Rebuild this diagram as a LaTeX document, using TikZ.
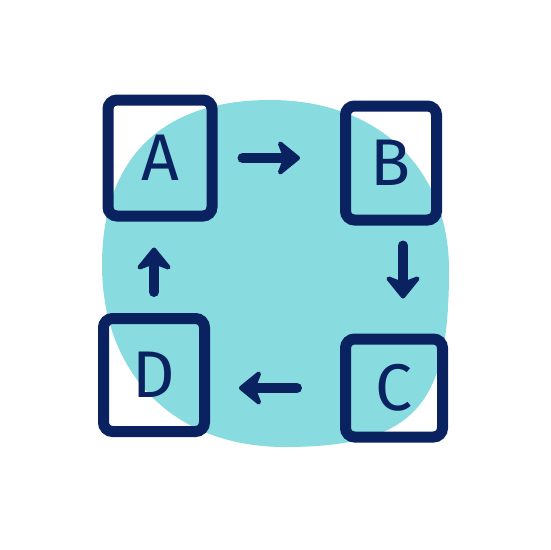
\documentclass[tikz,border=0pt]{standalone}
\usepackage{fontspec}
\setmainfont{Fira Sans}
\usepackage{xcolor}
\definecolor{navy}{HTML}{0A2260}
\definecolor{lagoon}{HTML}{88DBDF}
\usetikzlibrary{
  arrows.meta,
  calc
}

\begin{document}
\begin{tikzpicture}[
  x=1pt, y=-1pt,
  box/.style = {shape=rectangle, rounded corners=9pt,
    draw=navy, line width=11pt, inner sep=0pt,
    text=navy, font=\fontsize{66}{66}\selectfont},
  flow/.style = {draw=navy, line width=10pt, line cap=round,
    -{Stealth[length=26pt, width=42pt, inset=8pt, round]}}]
  \useasboundingbox (0,0) rectangle (550,550);
  \fill[lagoon] (270,100) .. controls (380,100) and (449,170) .. (449,270)
    .. controls (449,400) and (420,447) .. (285,447)
    .. controls (170,447) and (102,370) .. (102,265)
    .. controls (102,160) and (160,100) .. (270,100) -- cycle;
  \node[box, minimum width=104pt, minimum height=116pt] (a) at (160,158) {A};
  \node[box, minimum width=91pt, minimum height=114pt] (b) at (391,163) {B};
  \node[box, minimum width=97pt, minimum height=98pt] (c) at (394,388) {C};
  \node[box, minimum width=101pt, minimum height=113pt] (d) at (154,375) {D};
  \draw[flow, shorten <=25pt, shorten >=40pt] (a.east) -- (a.east -| b.west);
  \draw[flow, shorten <=20pt, shorten >=35pt]
    ([xshift=12pt]b.south) -- ([xshift=12pt]b.south |- c.north);
  \draw[flow, shorten <=43pt, shorten >=29pt] (c.west) -- (c.west -| d.east);
  \draw[flow, shorten <=21pt, shorten >=26pt] (d.north) -- (d.north |- a.south);
\end{tikzpicture}
\end{document}
